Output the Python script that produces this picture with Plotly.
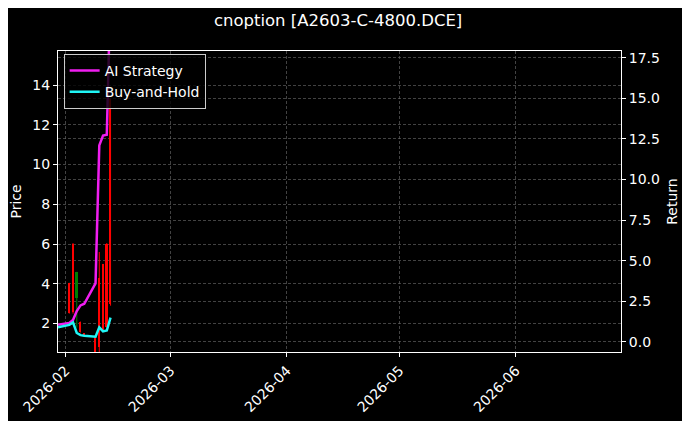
import plotly.graph_objects as go

# --- DATA ---
candle_dates = ['2026-02-02', '2026-02-03', '2026-02-04', '2026-02-05', '2026-02-06',
                '2026-02-09', '2026-02-10', '2026-02-11', '2026-02-12', '2026-02-13']
open_px = [4.05, 6.0, 3.3, 2.1, 1.5, 1.3, 4.3, 5.0, 6.0, 13.3]
high_px = [4.05, 6.05, 4.6, 2.1, 1.5, 1.35, 5.6, 5.0, 6.05, 13.3]
low_px = [2.5, 2.5, 1.8, 1.55, 1.45, 0.4, 0.5, 1.6, 1.8, 2.9]
close_px = [2.55, 2.6, 4.6, 1.6, 1.45, 0.5, 0.8, 1.65, 1.85, 3.0]

line_dates = ['2026-01-30', '2026-02-02', '2026-02-03', '2026-02-04', '2026-02-05', '2026-02-06',
              '2026-02-09', '2026-02-10', '2026-02-11', '2026-02-12', '2026-02-13']
ai_strategy = [1.05, 1.17, 1.35, 1.9, 2.25, 2.35, 3.6, 12.1, 12.7, 12.75, 22.0]
buy_and_hold = [0.9, 1.05, 1.2, 0.55, 0.42, 0.38, 0.32, 0.9, 0.65, 0.7, 1.5]

title_text = 'cnoption [A2603-C-4800.DCE]'

# --- STYLE ---
FONT = 'DejaVu Sans'
GRID = 'rgba(110,110,110,0.6)'
UP, DOWN = 'green', 'red'
DAY_MS = 24 * 3600 * 1000

colors = [UP if c >= o else DOWN for o, c in zip(open_px, close_px)]

fig = go.Figure()

# wicks, one segment per candle
for up_flag, col in [(True, UP), (False, DOWN)]:
    wx, wy = [], []
    for d, o, h, l, c in zip(candle_dates, open_px, high_px, low_px, close_px):
        if (c >= o) == up_flag:
            wx += [d, d, None]
            wy += [l, h, None]
    fig.add_trace(go.Scatter(x=wx, y=wy, mode='lines', line=dict(color=col, width=1),
                             showlegend=False, hoverinfo='skip', yaxis='y'))

# bodies
fig.add_trace(go.Bar(
    x=candle_dates,
    y=[abs(c - o) for o, c in zip(open_px, close_px)],
    base=[min(o, c) for o, c in zip(open_px, close_px)],
    width=0.45 * DAY_MS,
    marker=dict(color=colors, line=dict(width=0)),
    showlegend=False, yaxis='y'
))

fig.add_trace(go.Scatter(
    x=line_dates, y=ai_strategy, mode='lines', name='AI Strategy',
    line=dict(color='#f01ef0', width=2.5), yaxis='y2'
))
fig.add_trace(go.Scatter(
    x=line_dates, y=buy_and_hold, mode='lines', name='Buy-and-Hold',
    line=dict(color='#1ff5f5', width=2.5), yaxis='y2'
))

axis_common = dict(
    showline=True, linecolor='white', linewidth=1,
    ticks='outside', tickcolor='white', ticklen=4, tickwidth=1,
    tickfont=dict(family=FONT, size=14, color='white'),
    showgrid=True, gridcolor=GRID, griddash='3px,2px', gridwidth=0.5,
    zeroline=False,
)

# page body adds an 8px offset, so the figure is 8px smaller and margins shifted
fig.update_layout(
    width=682, height=413,
    paper_bgcolor='black', plot_bgcolor='black',
    margin=dict(l=50, r=69, t=43, b=69, autoexpand=False),
    font=dict(family=FONT, color='white', size=14),
    title=dict(text=title_text, x=0.484, xanchor='center', y=0.984, yanchor='top',
               font=dict(family=FONT, size=16.5, color='white')),
    xaxis=dict(
        axis_common,
        type='date', range=['2026-01-30', '2026-06-29'],
        dtick='M1', tick0='2026-02-01', tickformat='%Y-%m', tickangle=-45,
        mirror=True,
    ),
    yaxis=dict(
        axis_common,
        range=[0.57, 15.71], dtick=2, tick0=0,
        title=dict(text='Price', standoff=8, font=dict(family=FONT, size=14, color='white')),
    ),
    yaxis2=dict(
        axis_common,
        overlaying='y', side='right',
        range=[-0.62, 17.91], dtick=2.5, tick0=0, tickformat='.1f',
        title=dict(text='Return', standoff=8, font=dict(family=FONT, size=14, color='white')),
    ),
    legend=dict(
        x=0.01, y=0.99, xanchor='left', yanchor='top',
        bgcolor='rgba(0,0,0,0.8)', bordercolor='#cccccc', borderwidth=1,
        font=dict(family=FONT, size=14, color='white'),
        tracegroupgap=0, itemwidth=30,
    ),
    bargap=0,
)

fig.write_html('out.html')
